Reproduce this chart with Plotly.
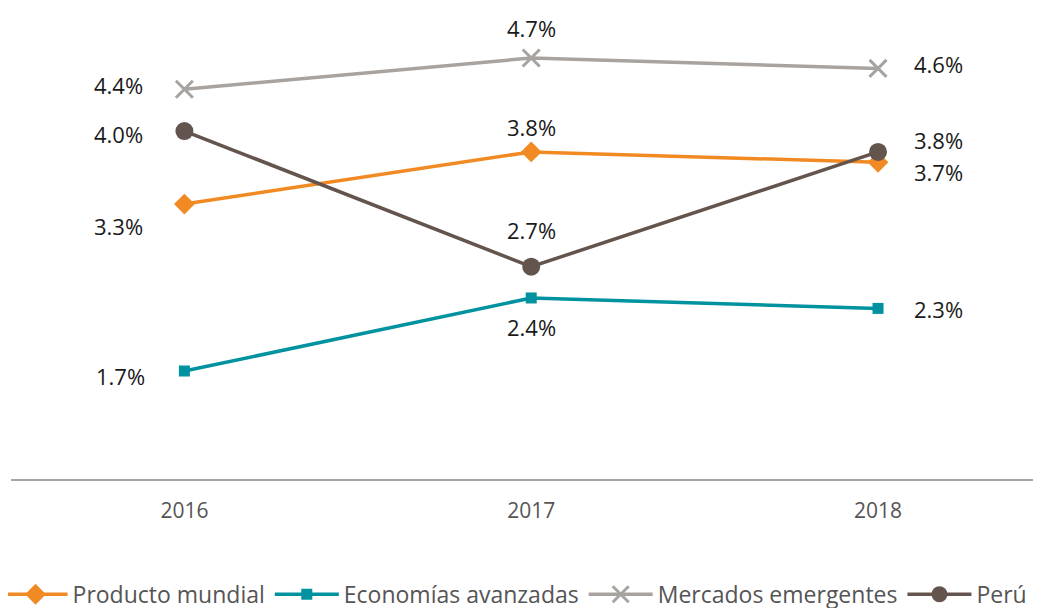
import plotly.graph_objects as go

years = ["2016", "2017", "2018"]
producto_mundial = [3.3, 3.8, 3.7]
economias_avanzadas = [1.7, 2.4, 2.3]
mercados_emergentes = [4.4, 4.7, 4.6]
peru = [4.0, 2.7, 3.8]
series_names = ["Producto mundial", "Economías avanzadas", "Mercados emergentes", "Perú"]

colors = ["#F28A24", "#00929F", "#A8A39E", "#63554E"]
symbols = ["diamond", "square", "x-thin", "circle"]
sizes = [16, 11, 17, 18]
all_series = [producto_mundial, economias_avanzadas, mercados_emergentes, peru]

fig = go.Figure()
for name, vals, c, s, sz in zip(series_names, all_series, colors, symbols, sizes):
    marker = dict(symbol=s, size=sz, color=c)
    if s == "x-thin":
        marker["line"] = dict(color=c, width=3)
    fig.add_trace(go.Scatter(
        x=years, y=vals, name=name, mode="lines+markers",
        line=dict(color=c, width=3.5), marker=marker,
    ))

# label offsets (xshift, yshift) per series per year
offsets = {
    0: [(-66, -22), (0, 25), (60, -10)],
    1: [(-64, -5), (0, -29), (60, -1)],
    2: [(-66, 4), (0, 30), (60, 4)],
    3: [(-66, -3), (0, 37), (60, 12)],
}
annotations = []
for i, vals in enumerate(all_series):
    for j, v in enumerate(vals):
        dx, dy = offsets[i][j]
        annotations.append(dict(
            x=j, y=v, xref="x", yref="y", text=f"{v:.1f}%",
            showarrow=False, xshift=dx, yshift=dy,
            font=dict(size=22, color="#1a1a1a", family="Open Sans"),
        ))

fig.update_layout(
    width=1041, height=608,
    margin=dict(l=3, r=0, t=2, b=137, autoexpand=False),
    paper_bgcolor="white", plot_bgcolor="white",
    font=dict(family="Open Sans", color="#555555"),
    showlegend=True,
    legend=dict(orientation="h", x=-0.012, xanchor="left", y=-0.2, yanchor="top",
                font=dict(size=23, color="#555555"), itemwidth=64,
                tracegroupgap=0),
    annotations=annotations,
    xaxis=dict(type="category", range=[-0.5, 2.493], showgrid=False, zeroline=False,
               showline=True, linecolor="#A8A39E", linewidth=2,
               ticks="", tickfont=dict(size=21, color="#555555"), ticklabelstandoff=12),
    yaxis=dict(range=[0.665, 5.16], visible=False, showgrid=False, zeroline=False),
)

fig.write_html("out.html")
